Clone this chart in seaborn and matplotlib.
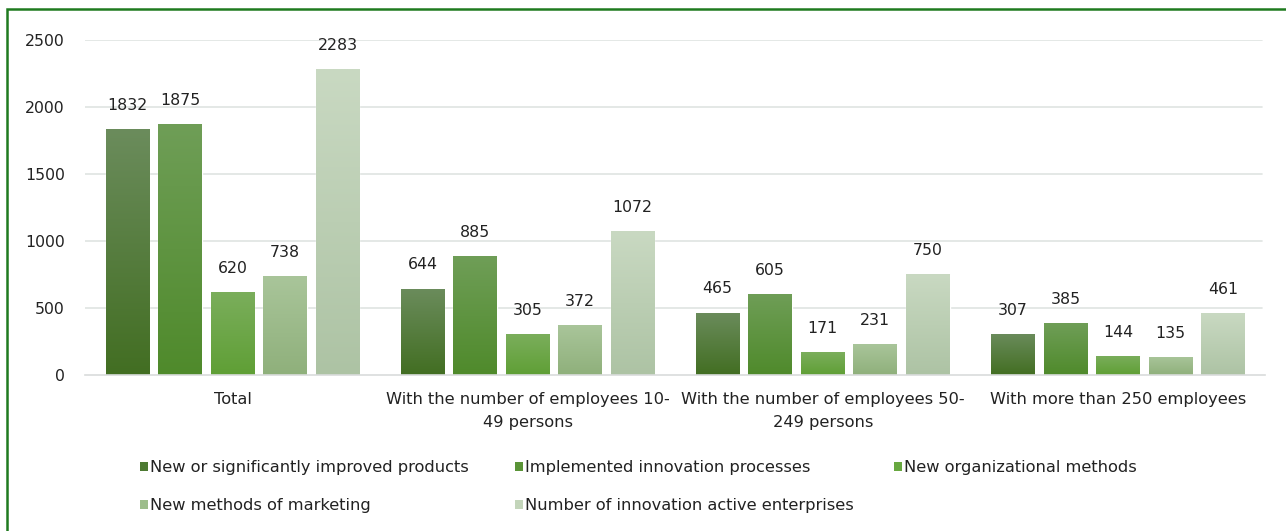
import numpy as np
import pandas as pd
import matplotlib
matplotlib.use("Agg")
import matplotlib.pyplot as plt
import seaborn as sns
from matplotlib.patches import Rectangle
from matplotlib.colors import LinearSegmentedColormap

categories = ["Total",
              "With the number of employees 10-\n49 persons",
              "With the number of employees 50-\n249 persons",
              "With more than 250 employees"]
series_names = ["New or significantly improved products",
                "Implemented innovation processes",
                "New organizational methods",
                "New methods of marketing",
                "Number of innovation active enterprises"]
products = [1832, 644, 465, 307]
processes = [1875, 885, 605, 385]
organizational = [620, 305, 171, 144]
marketing = [738, 372, 231, 135]
active = [2283, 1072, 750, 461]
y_ticks = [0, 500, 1000, 1500, 2000, 2500]

top_colors = ["#6b8c5c", "#6f9e57", "#7bae5c", "#a9c59a", "#c9d9c2"]
bottom_colors = ["#426e22", "#4f8a2b", "#5f9f35", "#8fb07b", "#adc3a4"]
legend_colors = ["#4d7a32", "#5a9437", "#68a840", "#9dbd8b", "#c3d5ba"]

sns.set_theme(style="white")
plt.rcParams['font.family'] = ['DejaVu Sans']

values = [products, processes, organizational, marketing, active]
rows = []
for name, vals in zip(series_names, values):
    for c, v in zip(categories, vals):
        rows.append({"category": c, "series": name, "value": v})
df = pd.DataFrame(rows)

fig = plt.figure(figsize=(12.86, 5.31), dpi=100)
ax = fig.add_axes([0.066, 0.294, 0.918, 0.631])

sns.barplot(data=df, x="category", y="value", hue="series", order=categories,
            hue_order=series_names, palette=legend_colors, width=0.89, gap=0.17,
            ax=ax, legend=False, saturation=1)

ax.set_ylim(0, 2500)
ax.set_xlim(-0.5, 3.5)
ax.set_yticks(y_ticks)
ax.set_xlabel("")
ax.set_ylabel("")
for y in y_ticks[1:]:
    ax.axhline(y, color="#dfe4e2", lw=1.2, zorder=0, xmin=0, xmax=0.997)
for s in ["top", "right", "left"]:
    ax.spines[s].set_visible(False)
ax.spines["bottom"].set_color("#d9dcdb")
ax.spines["bottom"].set_linewidth(1.2)
ax.tick_params(axis="y", length=0, pad=14.4, labelsize=11.3, labelcolor="#222222")
ax.tick_params(axis="x", length=0, pad=12, labelsize=11.7, labelcolor="#222222")
for t in ax.get_xticklabels():
    t.set_linespacing(1.68)

# gradient fills clipped to each bar
grad = np.linspace(0, 1, 256).reshape(-1, 1)
for i, cont in enumerate(ax.containers):
    cmap = LinearSegmentedColormap.from_list("g%d" % i, [bottom_colors[i], top_colors[i]])
    for bar, v in zip(cont.patches, values[i]):
        x0 = bar.get_x()
        w = bar.get_width()
        h = bar.get_height()
        im = ax.imshow(grad, cmap=cmap, origin="lower", aspect="auto",
                       extent=[x0, x0 + w, 0, h], zorder=bar.get_zorder() + 0.1)
        im.set_clip_path(bar)
        ax.text(x0 + w / 2, h + 120, f"{v}", ha="center", va="bottom",
                fontsize=11.3, color="#222222")
ax.set_xlim(-0.5, 3.5)
ax.set_ylim(0, 2500)

handles = [Rectangle((0, 0), 1, 1, facecolor=c, edgecolor="none") for c in legend_colors]
W, H = 1286.0, 531.0
columns = [([0, 3], 140), ([1, 4], 515), ([2], 894)]
for idx, xpx in columns:
    leg = fig.legend([handles[i] for i in idx], [series_names[i] for i in idx],
                     loc="upper left", bbox_to_anchor=(xpx / W, 1 - 460 / H), ncol=1,
                     frameon=False, fontsize=11.7, handlelength=0.48, handleheight=0.48,
                     handletextpad=0.15, labelspacing=1.42, borderpad=0,
                     borderaxespad=0, labelcolor="#222222")

border = Rectangle((6.5 / W, -0.05), 1.2, 1 - 8.5 / H + 0.05, transform=fig.transFigure,
                   fill=False, edgecolor="#1f7a1f", linewidth=1.8)
fig.patches.append(border)

fig.savefig("out.png", dpi=100)
